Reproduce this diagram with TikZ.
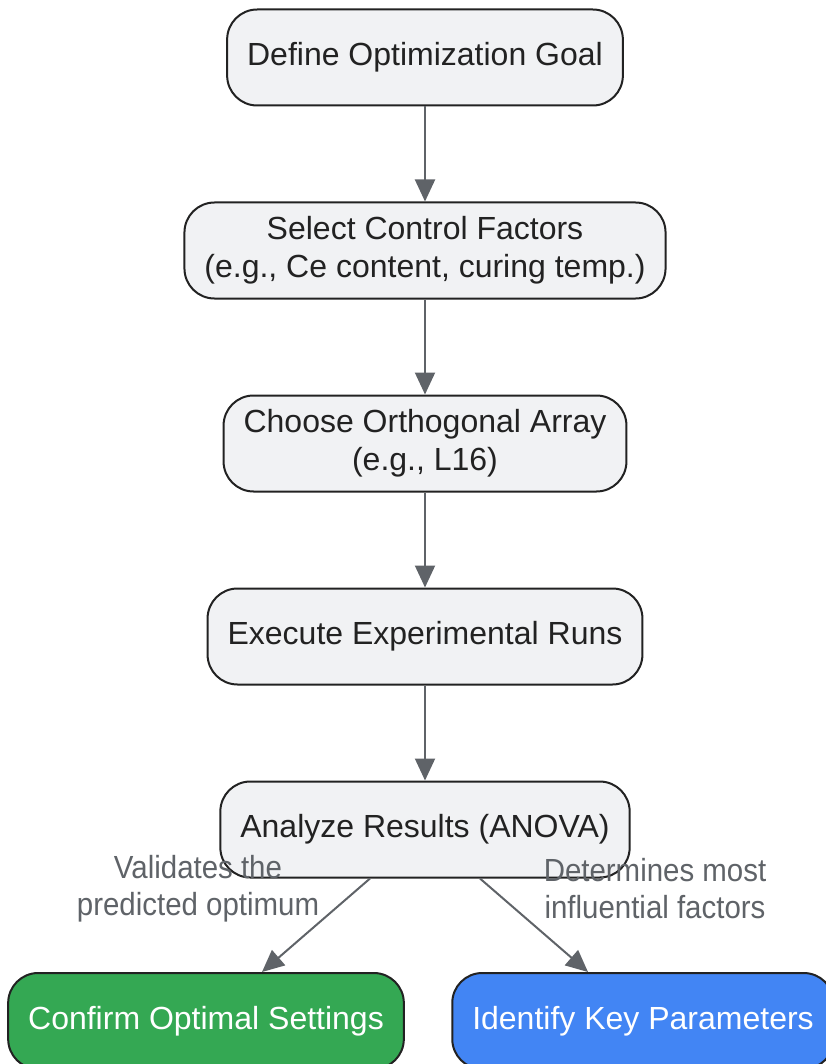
\documentclass[tikz,border=0pt]{standalone}
\usepackage{fontspec}
\setmainfont{Liberation Sans}
\newfontfamily\labelfont[FakeStretch=0.92]{Liberation Sans}
\usetikzlibrary{positioning,arrows.meta}

\definecolor{boxfill}{HTML}{F1F2F4}
\definecolor{boxline}{HTML}{222222}
\definecolor{flowgray}{HTML}{5F6368}
\definecolor{okgreen}{HTML}{34A853}
\definecolor{keyblue}{HTML}{4285F4}

\begin{document}
\begin{tikzpicture}[x=1pt, y=1pt,
  stepbox/.style={draw=boxline, line width=2pt, fill=boxfill, rounded corners=30pt,
    minimum height=96pt, inner xsep=20pt, align=center, text=boxline,
    font=\fontsize{32}{38}\selectfont},
  flow/.style={draw=flowgray, line width=2pt, -{Triangle[length=22pt,width=20pt]}},
  edgetext/.style={text=flowgray, align=center, font=\labelfont\fontsize{32}{37}\selectfont},
  node distance=95pt]
  \useasboundingbox (0,0) rectangle (826,-1064);
  \clip (0,0) rectangle (826,-1064);

  % main chain
  \node[stepbox] (goal) at (425,-57.5) {Define Optimization Goal};
  \node[stepbox, below=of goal] (factors) {Select Control Factors\\(e.g., Ce content, curing temp.)};
  \node[stepbox, below=of factors] (array) {Choose Orthogonal Array\\(e.g., L16)};
  \node[stepbox, below=of array] (runs) {Execute Experimental Runs};
  \node[stepbox, below=of runs] (anova) {Analyze Results (ANOVA)};

  % outcomes
  \node[stepbox, fill=okgreen, text=white] (confirm) at (206,-1021) {Confirm Optimal Settings};
  \node[stepbox, fill=keyblue, text=white] (keyparams) at (643,-1021) {Identify Key Parameters};

  \draw[flow] (goal) -- (factors);
  \draw[flow] (factors) -- (array);
  \draw[flow] (array) -- (runs);
  \draw[flow] (runs) -- (anova);
  \draw[flow] ([xshift=-55pt]anova.south) -- ([xshift=56pt]confirm.north);
  \draw[flow] ([xshift=55pt]anova.south) -- ([xshift=-55pt]keyparams.north);

  \node[edgetext] (validlabel) at (198,-889) {Validates the\\predicted optimum};
  \node[edgetext] (influlabel) at (655,-889) {Determines most\\influential factors};
\end{tikzpicture}
\end{document}
